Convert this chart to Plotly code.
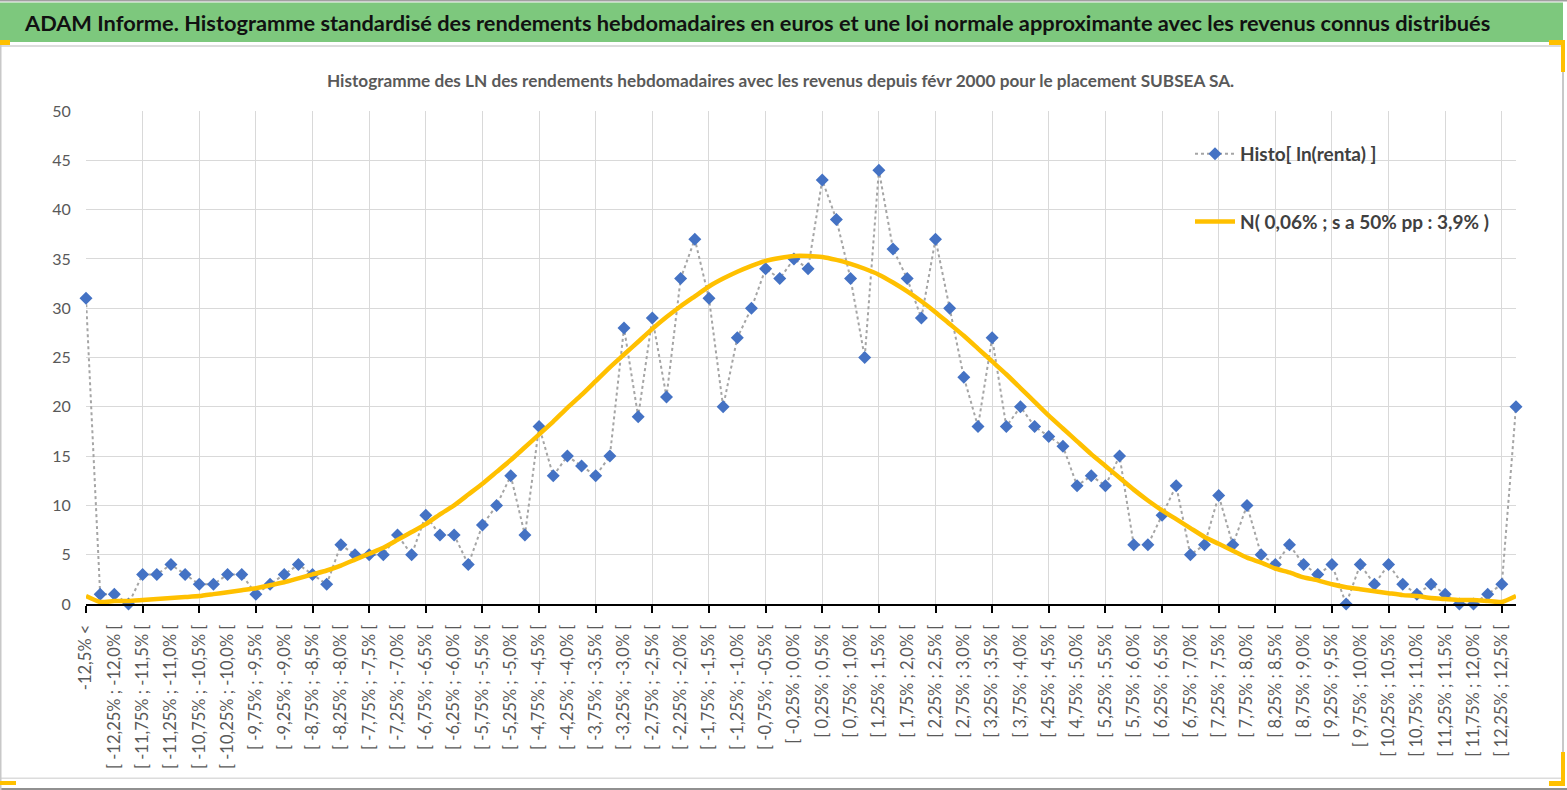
import plotly.graph_objects as go

# ---------------- data ----------------
bin_step = 0.25
bin_low = -12.5
n_bins = 100

def fmt(v):
    s = f"{v:.2f}"
    if s.endswith("0"):
        s = s[:-1]
    if s in ("-0.0",):
        s = "0.0"
    return s.replace(".", ",") + "%"

categories = ["-12,5% <"]
for k in range(n_bins):
    lo = bin_low + k * bin_step
    hi = lo + bin_step
    categories.append(f"[ {fmt(lo)} ; {fmt(hi)} [")
categories.append("12,5% <")

histo = [31, 1, 1, 0, 3, 3, 4, 3, 2, 2, 3, 3, 1, 2, 3, 4, 3, 2, 6, 5, 5, 5, 7, 5, 9, 7, 7, 4, 8, 10,
         13, 7, 18, 13, 15, 14, 13, 15, 28, 19, 29, 21, 33, 37, 31, 20, 27, 30, 34, 33, 35, 34, 43, 39,
         33, 25, 44, 36, 33, 29, 37, 30, 23, 18, 27, 18, 20, 18, 17, 16, 12, 13, 12, 15, 6, 6, 9, 12,
         5, 6, 11, 6, 10, 5, 4, 6, 4, 3, 4, 0, 4, 2, 4, 2, 1, 2, 1, 0, 0, 1, 2, 20]

normal = [0.8,
          0.2, 0.3, 0.3, 0.4, 0.5, 0.6, 0.7, 0.8, 1.0, 1.2,
          1.4, 1.6, 1.9, 2.2, 2.6, 3.0, 3.4, 3.9, 4.5, 5.1,
          5.7, 6.5, 7.3, 8.1, 9.1, 10.0, 11.1, 12.2, 13.4, 14.6,
          15.9, 17.2, 18.5, 19.9, 21.2, 22.6, 24.0, 25.3, 26.6, 27.9,
          29.1, 30.2, 31.2, 32.2, 33.0, 33.7, 34.3, 34.8, 35.1, 35.3,
          35.3, 35.2, 34.9, 34.5, 34.0, 33.4, 32.6, 31.7, 30.7, 29.6,
          28.4, 27.2, 25.9, 24.6, 23.3, 21.9, 20.5, 19.1, 17.8, 16.5,
          15.2, 14.0, 12.8, 11.6, 10.5, 9.5, 8.6, 7.7, 6.8, 6.1,
          5.4, 4.7, 4.2, 3.6, 3.2, 2.7, 2.4, 2.0, 1.7, 1.5,
          1.3, 1.1, 0.9, 0.8, 0.6, 0.5, 0.4, 0.4, 0.3, 0.2,
          0.8]

y_ticks = list(range(0, 51, 5))

banner_text = ("ADAM Informe. Histogramme standardisé des rendements hebdomadaires en euros "
               "et une loi normale approximante avec les revenus connus distribués")
chart_title = ("Histogramme des LN des rendements hebdomadaires avec les revenus depuis "
               "févr 2000 pour le placement SUBSEA SA.")
name_histo = "Histo[ ln(renta) ]"
name_normal = "N( 0,06% ; s a 50% pp : 3,9% )"

# ---------------- layout helpers ----------------
W, H = 1567, 790
L, R, T, B = 86, 51, 111, 186
PW, PH = W - L - R, H - T - B
FONT = "Lato, Open Sans, sans-serif"


def px(xp):
    return (xp - L) / PW


def py(yp):
    return (H - B - yp) / PH


idx = list(range(len(categories)))

fig = go.Figure()
fig.add_trace(go.Scatter(
    x=idx, y=histo, name=name_histo, mode="lines+markers",
    line=dict(color="#A5A5A5", width=2, dash="dot"),
    marker=dict(symbol="diamond", size=10, color="#4472C4"),
    cliponaxis=False, legendgroup="a", text=categories,
    hovertemplate="%{text}: %{y}<extra></extra>",
))
fig.add_trace(go.Scatter(
    x=idx, y=normal, name=name_normal, mode="lines",
    line=dict(color="#FFC000", width=4.5, shape="spline", smoothing=0.5),
    cliponaxis=False, legendgroup="b", text=categories,
    hovertemplate="%{text}: %{y}<extra></extra>",
))
# carrier trace for the label axis
fig.add_trace(go.Scatter(
    x=[0, len(categories) - 1], y=[0, 0], xaxis="x2", mode="markers",
    marker=dict(opacity=0), showlegend=False, hoverinfo="skip",
))

shapes = []
# legend white box (covers gridlines)
shapes.append(dict(type="rect", xref="paper", yref="paper", x0=px(1175), x1=px(1518),
                   y0=py(259), y1=py(120), fillcolor="white", line=dict(width=0), layer="between"))
# top border
shapes.append(dict(type="rect", xref="paper", yref="paper", x0=px(0), x1=px(W),
                   y0=py(1.5), y1=py(0), fillcolor="#A0A0A0", line=dict(width=0), layer="above"))
# green banner
shapes.append(dict(type="rect", xref="paper", yref="paper", x0=px(0), x1=px(1563),
                   y0=py(42), y1=py(2.5), fillcolor="#7DC87D", line=dict(width=0), layer="below"))
# gray line under banner
shapes.append(dict(type="rect", xref="paper", yref="paper", x0=px(0), x1=px(1563),
                   y0=py(47), y1=py(45), fillcolor="#DCDCDC", line=dict(width=0), layer="below"))
# right frame
shapes.append(dict(type="rect", xref="paper", yref="paper", x0=px(1562), x1=px(1564),
                   y0=py(780), y1=py(45), fillcolor="#C8C8C8", line=dict(width=0), layer="below"))
# bottom frame lines
shapes.append(dict(type="rect", xref="paper", yref="paper", x0=px(0), x1=px(1563),
                   y0=py(779), y1=py(777.5), fillcolor="#DCDCDC", line=dict(width=0), layer="below"))
shapes.append(dict(type="rect", xref="paper", yref="paper", x0=px(0), x1=px(W),
                   y0=py(790), y1=py(788), fillcolor="#909090", line=dict(width=0), layer="below"))
# left frame
shapes.append(dict(type="rect", xref="paper", yref="paper", x0=px(0), x1=px(1.5),
                   y0=py(790), y1=py(45), fillcolor="#C8C8C8", line=dict(width=0), layer="below"))
# orange handles
for (x0, x1, y0, y1) in [(0, 10, 40, 45), (1549, 1565, 40, 45), (1561, 1565, 40, 72),
                         (0, 16, 781, 785), (1549, 1565, 781, 786), (1561, 1565, 752, 786)]:
    shapes.append(dict(type="rect", xref="paper", yref="paper", x0=px(x0), x1=px(x1),
                       y0=py(y1), y1=py(y0), fillcolor="#FFC000", line=dict(width=0), layer="above"))

annotations = [
    dict(text="<b>" + banner_text + "</b>", xref="paper", yref="paper", x=px(22), y=py(22),
         xanchor="left", yanchor="middle", showarrow=False,
         font=dict(family=FONT, size=21.8, color="#111111")),
    dict(text="<b>" + chart_title + "</b>", xref="paper", yref="paper", x=px(780), y=py(80),
         xanchor="center", yanchor="middle", showarrow=False,
         font=dict(family=FONT, size=17.2, color="#595959")),
]

fig.update_layout(
    width=W, height=H,
    margin=dict(l=L, r=R, t=T, b=B, pad=0),
    paper_bgcolor="white", plot_bgcolor="white",
    font=dict(family=FONT, color="#595959"),
    showlegend=True,
    legend=dict(x=px(1190), y=py(135), xanchor="left", yanchor="top",
                bgcolor="rgba(0,0,0,0)",
                font=dict(family=FONT, size=19, color="#404040", weight="bold"),
                tracegroupgap=40, itemwidth=40, traceorder="grouped"),
    xaxis=dict(type="linear", range=[0, len(categories) - 1], showgrid=True, gridcolor="#D9D9D9",
               gridwidth=1, tick0=0, dtick=4, ticks="outside", ticklen=7, tickwidth=1.5,
               tickcolor="black", showticklabels=False, showline=True, linecolor="black",
               linewidth=2, zeroline=False, fixedrange=True),
    xaxis2=dict(type="linear", overlaying="x", anchor="y", side="bottom",
                range=[0, len(categories) - 1], showgrid=False, zeroline=False,
                tickmode="array", tickvals=idx[::2], ticktext=categories[::2], tickangle=-90,
                ticks="outside", ticklen=13, tickcolor="rgba(0,0,0,0)",
                tickfont=dict(family=FONT, size=16.5, color="#595959"), fixedrange=True),
    yaxis=dict(range=[0, 50], tickmode="array", tickvals=y_ticks, showgrid=True,
               gridcolor="#D9D9D9", gridwidth=1, zeroline=False, showline=False,
               ticks="outside", ticklen=11, tickcolor="rgba(0,0,0,0)",
               tickfont=dict(family=FONT, size=16, color="#595959"), fixedrange=True),
    shapes=shapes, annotations=annotations,
)

fig.write_html("out.html", config={"displayModeBar": False},
               post_script="document.body.style.margin='0';document.body.style.overflow='hidden';")
